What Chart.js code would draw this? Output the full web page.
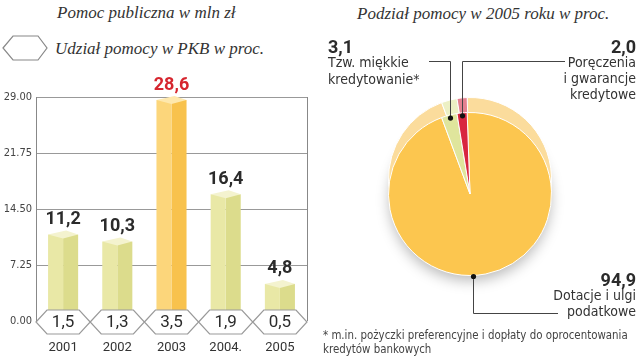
<!DOCTYPE html>
<html><head><meta charset="utf-8">
<script src="https://cdn.jsdelivr.net/npm/chart.js@4"></script>
<style>
body{margin:0;background:#fff;width:640px;height:356px;position:relative;overflow:hidden;}
.t{position:absolute;white-space:nowrap;font-style:italic;font-family:"Liberation Serif",serif;font-size:17px;color:#333;line-height:1;}
canvas{position:absolute;top:0;}
#bar{left:0}
#pie{left:320px}
.fn{position:absolute;left:323px;top:328px;font-family:"DejaVu Sans Condensed",sans-serif;font-size:11.4px;color:#444;line-height:14px;white-space:nowrap}
</style></head><body>
<div class="t" style="left:57px;top:4px">Pomoc publiczna w mln zł</div>
<svg style="position:absolute;left:0;top:0" width="60" height="70"><polygon points="3,48 13,36 38,36 47,48 38,60 13,60" fill="#fff" stroke="#888" stroke-width="1.2"/></svg>
<div class="t" style="left:55px;top:40px">Udział pomocy w PKB w proc.</div>
<div class="t" style="left:357px;top:5px">Podział pomocy w 2005 roku w proc.</div>
<canvas id="bar" width="320" height="356"></canvas>
<canvas id="pie" width="320" height="356"></canvas>
<div class="fn">* m.in. pożyczki preferencyjne i dopłaty do oprocentowania<br>kredytów bankowych</div>
<script>
// ---- data ----
const years = ['2001', '2002', '2003', '2004.', '2005'];
const aidValues = [11.2, 10.3, 28.6, 16.4, 4.8];
const gdpShare = [1.5, 1.3, 3.5, 1.9, 0.5];
const yTicks = [0, 7.25, 14.5, 21.75, 29];
const pieNames = [['Dotacje i ulgi', 'podatkowe'], ['Tzw. miękkie', 'kredytowanie*'], ['Poręczenia', 'i gwarancje', 'kredytowe']];
const pieValues = [94.9, 3.1, 2.0];

// ---- styles ----
const hi = 2;
const faceL = years.map((_, i) => i === hi ? '#fcd67b' : '#e9e8a6');
const faceR = years.map((_, i) => i === hi ? '#f8c24d' : '#dcdc8c');
const topC = years.map((_, i) => i === hi ? '#fee8ad' : '#f4f3cf');
const fmt = v => v.toFixed(1).replace('.', ',');

const bar3d = {
  id: 'bar3d',
  afterDatasetsDraw(chart) {
    const ctx = chart.ctx, a = chart.chartArea;
    const mL = chart.getDatasetMeta(0).data, mR = chart.getDatasetMeta(1).data;
    ctx.save();
    ctx.strokeStyle = '#888'; ctx.lineWidth = 1;
    ctx.beginPath(); ctx.moveTo(a.right + 0.5, a.top); ctx.lineTo(a.right + 0.5, a.bottom); ctx.stroke();
    mL.forEach((b, i) => {
      const r = mR[i];
      const x0 = b.x - b.width / 2, xm = b.x + b.width / 2, x1 = r.x + r.width / 2, t = b.y;
      ctx.fillStyle = topC[i];
      ctx.beginPath();
      ctx.moveTo(x0, t); ctx.lineTo(xm + 3, t - 4); ctx.lineTo(x1, t); ctx.lineTo(xm, t + 4);
      ctx.closePath(); ctx.fill();
      ctx.fillStyle = i === hi ? '#d6262f' : '#2b2b2b';
      ctx.font = 'bold 18px Roboto';
      ctx.textAlign = 'center'; ctx.textBaseline = 'middle';
      ctx.fillText(fmt(aidValues[i]), xm, t - 15);
    });
    const xs = chart.scales.x;
    const cw = (a.right - a.left) / years.length;
    const cy = a.bottom + 1, hh = 12, sl = 11;
    years.forEach((y, i) => {
      const cx = xs.getPixelForValue(i);
      const l = cx - cw / 2, rr = cx + cw / 2;
      ctx.beginPath();
      ctx.moveTo(l, cy); ctx.lineTo(l + sl, cy - hh); ctx.lineTo(rr - sl, cy - hh);
      ctx.lineTo(rr, cy); ctx.lineTo(rr - sl, cy + hh); ctx.lineTo(l + sl, cy + hh);
      ctx.closePath();
      ctx.fillStyle = '#fff'; ctx.fill();
      ctx.strokeStyle = '#999'; ctx.lineWidth = 1.2; ctx.stroke();
      ctx.fillStyle = '#2b2b2b'; ctx.font = '17px Roboto';
      ctx.textAlign = 'center'; ctx.textBaseline = 'middle';
      ctx.fillText(fmt(gdpShare[i]), cx, cy + 1);
    });
    ctx.restore();
  }
};

new Chart(document.getElementById('bar'), {
  type: 'bar',
  data: {
    labels: years,
    datasets: [
      { data: aidValues, backgroundColor: faceL, categoryPercentage: 0.555, barPercentage: 1 },
      { data: aidValues, backgroundColor: faceR, categoryPercentage: 0.555, barPercentage: 1 }
    ]
  },
  options: {
    responsive: false, animation: false, events: [],
    layout: { padding: { top: 97, right: 13, left: 0, bottom: 0 } },
    plugins: { legend: { display: false }, tooltip: { enabled: false } },
    scales: {
      x: {
        grid: { display: false, drawTicks: false }, border: { display: false },
        ticks: { padding: 19, font: { family: 'Roboto', size: 13 }, color: '#333' },
        afterFit(s) { s.height = 35; }
      },
      y: {
        min: 0, max: 29,
        afterBuildTicks(s) { s.ticks = yTicks.map(v => ({ value: v })); },
        grid: { color: '#999', drawTicks: false },
        border: { color: '#888' },
        ticks: { padding: 4, font: { family: 'DejaVu Sans Condensed', size: 11 }, color: '#444', callback: v => Number(v).toFixed(2) },
        afterFit(s) { s.width = 36; }
      }
    }
  },
  plugins: [bar3d]
});

const pieColors = ['#fcc64f', '#dfe59c', '#d8263f'];
const pieBack = ['#fbdc9c', '#ecf0c4', '#e4808f'];
const pieDeco = {
  id: 'pieDeco',
  beforeDatasetsDraw(chart) {
    const ctx = chart.ctx, arcs = chart.getDatasetMeta(0).data;
    const { x, y, outerRadius: r } = arcs[0];
    ctx.save();
    ctx.shadowColor = 'rgba(0,0,0,0.28)'; ctx.shadowBlur = 14; ctx.shadowOffsetY = 6;
    ctx.fillStyle = '#fcc64f';
    ctx.beginPath(); ctx.arc(x, y, r - 1, 0, Math.PI * 2); ctx.fill();
    ctx.restore();
    ctx.save();
    arcs.forEach((a, i) => {
      ctx.fillStyle = pieBack[i];
      ctx.beginPath(); ctx.moveTo(a.x, a.y - 15);
      ctx.arc(a.x, a.y - 15, a.outerRadius, a.startAngle, a.endAngle);
      ctx.closePath(); ctx.fill();
      ctx.strokeStyle = '#fff'; ctx.lineWidth = 1; ctx.stroke();
    });
    ctx.restore();
  },
  afterDatasetsDraw(chart) {
    const ctx = chart.ctx, arcs = chart.getDatasetMeta(0).data;
    ctx.save();
    ctx.strokeStyle = '#444'; ctx.lineWidth = 1; ctx.fillStyle = '#111';
    const pts = arcs.map((a, i) => {
      if (i === 0) return { x: a.x + 3, y: a.y + a.outerRadius + 1 };
      const m = (a.startAngle + a.endAngle) / 2, rr = a.outerRadius - 3;
      return { x: a.x + Math.cos(m) * rr, y: a.y + Math.sin(m) * rr };
    });
    const lines = [
      [[pts[0].x, pts[0].y], [pts[0].x, 313.5], [238, 313.5]],
      [[pts[1].x, pts[1].y], [pts[1].x, 61.5], [109, 61.5]],
      [[pts[2].x, pts[2].y], [pts[2].x, 61.5], [245, 61.5]]
    ];
    lines.forEach(l => {
      ctx.beginPath(); ctx.moveTo(Math.round(l[0][0]) + 0.5, l[0][1]);
      ctx.lineTo(Math.round(l[1][0]) + 0.5, l[1][1]); ctx.lineTo(l[2][0], l[2][1]); ctx.stroke();
    });
    pts.forEach(p => { ctx.beginPath(); ctx.arc(Math.round(p.x) + 0.5, p.y, 2.6, 0, Math.PI * 2); ctx.fill(); });
    const lay = [
      { x: 316, y: 281, align: 'right', gap: 16 },
      { x: 8, y: 48, align: 'left', gap: 17 },
      { x: 316, y: 48, align: 'right', gap: 16 }
    ];
    lay.forEach((L, i) => {
      ctx.textAlign = L.align; ctx.textBaseline = 'middle';
      ctx.fillStyle = '#2b2b2b'; ctx.font = 'bold 18px Roboto';
      ctx.fillText(fmt(pieValues[i]), L.x, L.y);
      ctx.font = '14px "DejaVu Sans Condensed"'; ctx.fillStyle = '#333';
      pieNames[i].forEach((n, k) => ctx.fillText(n, L.x, L.y + 15 + k * L.gap));
    });
    ctx.restore();
  }
};

new Chart(document.getElementById('pie'), {
  type: 'pie',
  data: {
    labels: pieNames.map(n => n.join(' ')),
    datasets: [{ data: pieValues, backgroundColor: pieColors, borderColor: '#fff', borderWidth: 1 }]
  },
  options: {
    responsive: false, animation: false, events: [], rotation: -2,
    layout: { padding: { left: 68, right: 88, top: 112, bottom: 80 } },
    plugins: { legend: { display: false }, tooltip: { enabled: false } }
  },
  plugins: [pieDeco]
});
</script>
</body></html>
